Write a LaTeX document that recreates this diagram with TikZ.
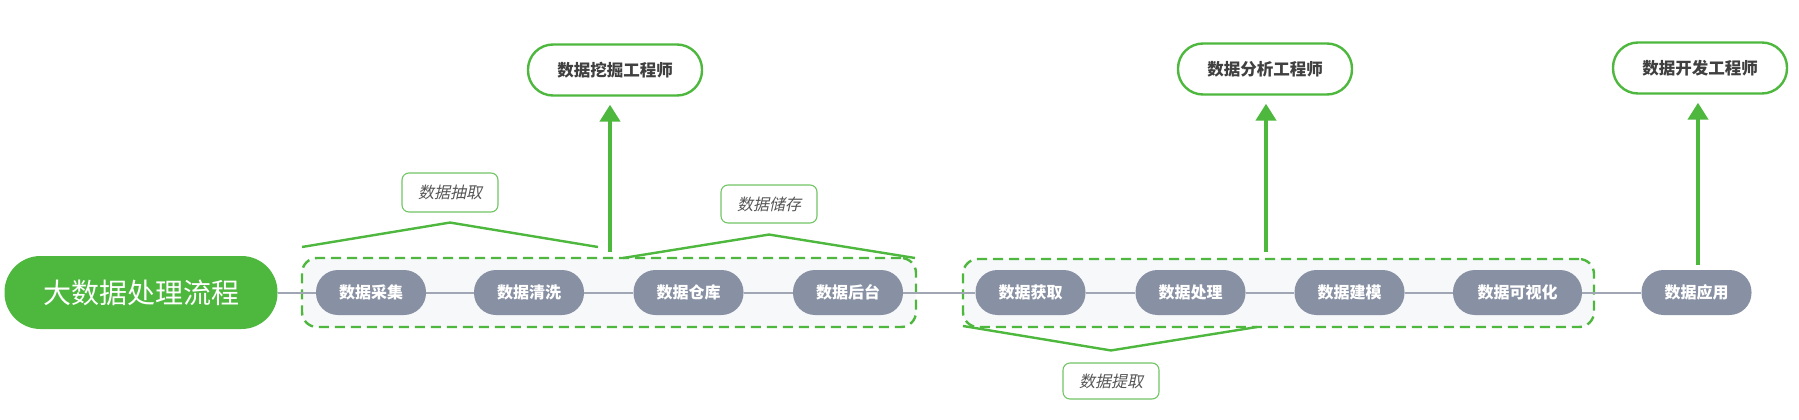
\documentclass[tikz,border=0pt]{standalone}
\usepackage{fontspec}
\setmainfont{Noto Sans CJK SC}
\newfontfamily\cjkit{Noto Sans CJK SC}[FakeSlant=0.22]
\usetikzlibrary{arrows.meta,calc}
\definecolor{mgreen}{HTML}{4DB73E}
\definecolor{ngray}{HTML}{8890A3}
\definecolor{lgray}{HTML}{A0A6B4}
\definecolor{boxfill}{HTML}{F7F8FA}
\definecolor{tdark}{HTML}{404040}
\definecolor{tlab}{HTML}{555555}
\tikzset{
  mainnode/.style={fill=mgreen, draw=none, rounded corners=36pt, minimum width=273pt, minimum height=73pt, inner sep=0pt, text=white, font=\fontsize{28}{30}\selectfont},
  stagenode/.style={fill=ngray, draw=none, rounded corners=22pt, minimum width=110pt, minimum height=45pt, inner sep=0pt, text=white, font=\bfseries\fontsize{16}{18}\selectfont},
  groupbox/.style={draw=mgreen, fill=boxfill, line width=2.4pt, dash pattern=on 10pt off 6pt, rounded corners=15pt, inner sep=0pt},
  rolebox/.style={draw=mgreen, fill=white, line width=2.4pt, rounded corners=25pt, minimum width=174pt, minimum height=51pt, inner sep=0pt, text=tdark, font=\bfseries\fontsize{16.5}{18}\selectfont},
  labbox/.style={draw=mgreen!80, fill=white, line width=1.1pt, rounded corners=7pt, minimum width=96pt, minimum height=37pt, inner sep=0pt, text=tlab, font=\cjkit\fontsize{16}{18}\selectfont},
  flowline/.style={draw=lgray, line width=2pt},
  roofline/.style={draw=mgreen, line width=2.4pt, line join=round},
  uparrow/.style={draw=mgreen, line width=4.5pt, -{Triangle[length=17pt,width=20pt]}, shorten >=8pt},
}
\begin{document}
\begin{tikzpicture}[x=1pt,y=-1pt]
\useasboundingbox (0,0) rectangle (1799,420);
% group boxes
\node[groupbox, minimum width=614pt, minimum height=69pt] (g1) at (609,292.5) {};
\node[groupbox, minimum width=631pt, minimum height=68pt] (g2) at (1278.5,293) {};
% main node and stages
\node[mainnode] (main) at (141,292.5) {大数据处理流程};
\node[stagenode] (cj) at (371,292.5) {数据采集};
\node[stagenode] (qx) at (529,292.5) {数据清洗};
\node[stagenode] (ck) at (688.5,292.5) {数据仓库};
\node[stagenode] (ht) at (848,292.5) {数据后台};
\node[stagenode] (hq) at (1030.5,292.5) {数据获取};
\node[stagenode] (cl) at (1190.5,292.5) {数据处理};
\node[stagenode] (jm) at (1349.5,292.5) {数据建模};
\node[stagenode, minimum width=129pt] (ksh) at (1517.5,292.5) {数据可视化};
\node[stagenode] (yy) at (1696.5,292.5) {数据应用};
% flow line
\draw[flowline] (main) -- (cj);
\draw[flowline] (cj) -- (qx);
\draw[flowline] (qx) -- (ck);
\draw[flowline] (ck) -- (ht);
\draw[flowline] (ht) -- (hq);
\draw[flowline] (hq) -- (cl);
\draw[flowline] (cl) -- (jm);
\draw[flowline] (jm) -- (ksh);
\draw[flowline] (ksh) -- (yy);
% labels
\node[labbox, minimum height=39pt] (l1) at (450,192.5) {数据抽取};
\node[labbox, minimum height=38pt] (l2) at (769,204) {数据储存};
\node[labbox, minimum height=36pt] (l3) at (1111,381) {数据提取};
% roofs
\coordinate (r1a) at (302,247);
\coordinate (r1b) at (598,247);
\coordinate (r2a) at (623,258);
\coordinate (r2b) at (915,258);
\coordinate (r3a) at (963,326);
\coordinate (r3b) at (1257,327);
\draw[roofline] (r1a) -- ($(l1.south)+(0,10)$) -- (r1b);
\draw[roofline] (r2a) -- ($(l2.south)+(0,11)$) -- (r2b);
\draw[roofline] (r3a) -- ($(l3.north)+(0,-12)$) -- (r3b);
% roles
\node[rolebox] (t1) at (615,70) {数据挖掘工程师};
\node[rolebox] (t2) at (1265,69) {数据分析工程师};
\node[rolebox] (t3) at (1700,68) {数据开发工程师};
% arrows
\coordinate (a1) at (610,252);
\coordinate (a2) at (1266,252);
\coordinate (a3) at (1698,265);
\draw[uparrow] (a1) -- (a1 |- t1.south);
\draw[uparrow] (a2) -- (a2 |- t2.south);
\draw[uparrow] (a3) -- (a3 |- t3.south);
\end{tikzpicture}
\end{document}
